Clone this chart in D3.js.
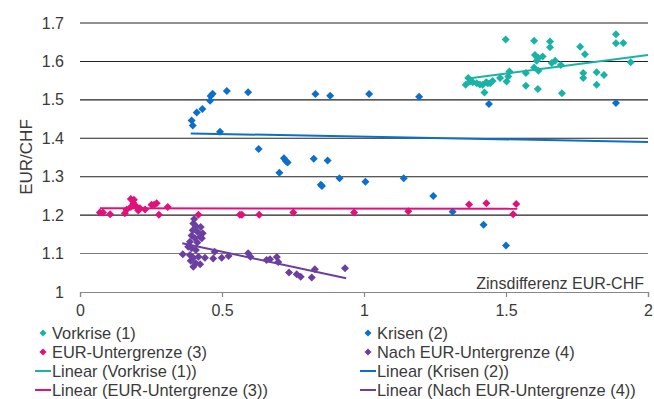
<!DOCTYPE html>
<html>
<head>
<meta charset="utf-8">
<script src="https://cdn.jsdelivr.net/npm/d3@7"></script>
<style>
  html, body { margin: 0; padding: 0; background: #fff; }
  svg { display: block; font-family: "Liberation Sans", Arial, sans-serif; }
</style>
</head>
<body>
<svg id="chart" width="654" height="399"></svg>
<script>
// Interest differential EUR-CHF (x) vs. EUR/CHF exchange rate (y), four regimes
const vorkriseX = [1.358,1.367,1.373,1.383,1.397,1.408,1.418,1.424,1.430,1.436,1.444,1.453,1.479,1.499,1.502,1.508,1.512,1.570,1.570,1.599,1.602,1.608,1.614,1.629,1.599,1.614,1.612,1.655,1.655,1.661,1.673,1.693,1.697,1.761,1.778,1.772,1.772,1.819,1.819,1.845,1.887,1.887,1.913,1.939];
const vorkriseY = [1.539,1.557,1.548,1.546,1.543,1.540,1.539,1.519,1.546,1.543,1.543,1.549,1.557,1.657,1.548,1.561,1.574,1.570,1.537,1.654,1.617,1.602,1.609,1.613,1.584,1.576,1.528,1.652,1.637,1.596,1.602,1.591,1.517,1.638,1.619,1.570,1.557,1.572,1.539,1.565,1.671,1.647,1.648,1.598];

const krisenX = [0.393,0.397,0.411,0.431,0.458,0.460,0.467,0.517,0.592,0.493,0.829,0.881,1.018,1.194,0.629,0.718,0.725,0.731,0.702,0.823,0.872,0.914,0.848,0.852,1.005,1.140,1.244,1.312,1.421,1.500,1.440,1.887];
const krisenY = [1.446,1.433,1.467,1.476,1.498,1.510,1.516,1.523,1.520,1.417,1.515,1.511,1.515,1.508,1.372,1.348,1.341,1.337,1.310,1.347,1.342,1.296,1.279,1.276,1.287,1.296,1.250,1.209,1.175,1.121,1.489,1.492];

const untergrenzeX = [0.070,0.081,0.106,0.158,0.164,0.179,0.179,0.188,0.190,0.197,0.205,0.211,0.229,0.252,0.261,0.270,0.278,0.309,0.417,0.563,0.570,0.631,0.751,0.965,1.156,1.370,1.431,1.536,1.525];
const untergrenzeY = [1.207,1.207,1.202,1.205,1.214,1.221,1.242,1.231,1.240,1.224,1.212,1.218,1.215,1.227,1.227,1.231,1.201,1.221,1.201,1.201,1.201,1.201,1.207,1.207,1.210,1.228,1.231,1.229,1.202];

const nachX = [0.402,0.399,0.408,0.425,0.397,0.413,0.432,0.393,0.423,0.405,0.429,0.387,0.413,0.381,0.393,0.408,0.362,0.387,0.399,0.417,0.440,0.390,0.408,0.423,0.399,0.474,0.469,0.499,0.523,0.592,0.600,0.657,0.669,0.693,0.698,0.736,0.763,0.777,0.816,0.827,0.933];
const nachY = [1.190,1.178,1.172,1.169,1.161,1.157,1.153,1.147,1.144,1.140,1.140,1.131,1.129,1.118,1.114,1.109,1.098,1.096,1.089,1.092,1.089,1.081,1.075,1.072,1.066,1.105,1.087,1.089,1.094,1.101,1.092,1.083,1.085,1.091,1.078,1.051,1.046,1.040,1.038,1.059,1.062];

// Linear trend lines: slope, intercept and x-extent per series
const seriesNames = ["Vorkrise (1)", "Krisen (2)", "EUR-Untergrenze (3)", "Nach EUR-Untergrenze (4)"];
const seriesColors = ["#19b3a6", "#0b6fcc", "#e0127a", "#6b3fa0"];
const trendSlopes = [0.0963, -0.0138, -0.001, -0.158];
const trendIntercepts = [1.424, 1.418, 1.218, 1.184];
const trendFrom = [1.36, 0.39, 0.07, 0.36];
const trendTo = [2.0, 2.0, 1.54, 0.937];

const xTicks = [0, 0.5, 1, 1.5, 2];
const yTicks = [1, 1.1, 1.2, 1.3, 1.4, 1.5, 1.6, 1.7];

const series = [
  { x: vorkriseX, y: vorkriseY },
  { x: krisenX, y: krisenY },
  { x: untergrenzeX, y: untergrenzeY },
  { x: nachX, y: nachY }
];

const svg = d3.select("#chart");
const x = d3.scaleLinear().domain([0, 2]).range([80, 648]);
const y = d3.scaleLinear().domain([1, 1.7]).range([292, 23]);
const textColor = "#3a3a3a";

// horizontal gridlines
svg.append("g").selectAll("line")
  .data(yTicks.filter(d => d > 1))
  .join("line")
  .attr("x1", x(0)).attr("x2", x(2))
  .attr("y1", d => y(d)).attr("y2", d => y(d))
  .attr("stroke", d => d === 1.1 ? "#7a7a7a" : "#222")
  .attr("stroke-width", 1.1);

// y-axis labels
svg.append("g").selectAll("text")
  .data(yTicks)
  .join("text")
  .attr("x", 64).attr("y", d => y(d))
  .attr("dy", "0.35em")
  .attr("text-anchor", "end")
  .attr("font-size", 16)
  .attr("fill", textColor)
  .text(d => d3.format("")(d));

// x axis with downward ticks
const xAxis = d3.axisBottom(x).tickValues(xTicks).tickSize(5).tickPadding(8)
  .tickFormat(d => d3.format("")(d));
const gx = svg.append("g").attr("transform", `translate(0,${y(1)})`).call(xAxis);
gx.select(".domain").attr("stroke", "#888").attr("stroke-width", 1.2);
gx.selectAll(".tick line").attr("stroke", "#888").attr("stroke-width", 1.2);
gx.selectAll(".tick text").attr("font-size", 16).attr("fill", textColor)
  .attr("font-family", "Liberation Sans, Arial, sans-serif");

// axis titles
svg.append("text")
  .attr("transform", `translate(32,157) rotate(-90)`)
  .attr("text-anchor", "middle")
  .attr("font-size", 17)
  .attr("fill", textColor)
  .text("EUR/CHF");

svg.append("text")
  .attr("x", 644).attr("y", 289)
  .attr("text-anchor", "end")
  .attr("font-size", 16)
  .attr("fill", textColor)
  .text("Zinsdifferenz EUR-CHF");

const diamond = r => `M0,${-r}L${r},0L0,${r}L${-r},0Z`;

// scatter points
series.forEach((s, i) => {
  svg.append("g").selectAll("path")
    .data(s.x.map((v, k) => [v, s.y[k]]))
    .join("path")
    .attr("d", diamond(4))
    .attr("transform", d => `translate(${x(d[0])},${y(d[1])})`)
    .attr("fill", seriesColors[i]);
});

// trend lines
series.forEach((s, i) => {
  const f = v => trendIntercepts[i] + trendSlopes[i] * v;
  svg.append("line")
    .attr("x1", x(trendFrom[i])).attr("y1", y(f(trendFrom[i])))
    .attr("x2", x(trendTo[i])).attr("y2", y(f(trendTo[i])))
    .attr("stroke", seriesColors[i])
    .attr("stroke-width", 2);
});

// legend
const colX = [43, 368];
const rowY = [333, 352, 371, 390];
const legendItems = [];
seriesNames.forEach((n, i) => legendItems.push({ type: "marker", name: n, i, col: i % 2, row: Math.floor(i / 2) }));
seriesNames.forEach((n, i) => legendItems.push({ type: "line", name: "Linear (" + n + ")", i, col: i % 2, row: 2 + Math.floor(i / 2) }));

const lg = svg.append("g").selectAll("g")
  .data(legendItems)
  .join("g")
  .attr("transform", d => `translate(${colX[d.col]},${rowY[d.row]})`);

lg.filter(d => d.type === "marker").append("path")
  .attr("d", diamond(3.5))
  .attr("fill", d => seriesColors[d.i]);

lg.filter(d => d.type === "line").append("line")
  .attr("x1", -8).attr("x2", 8).attr("y1", 0).attr("y2", 0)
  .attr("stroke", d => seriesColors[d.i]).attr("stroke-width", 2);

lg.append("text")
  .attr("x", 9)
  .attr("dy", "0.35em")
  .attr("font-size", 16.4)
  .attr("fill", textColor)
  .text(d => d.name);
</script>
</body>
</html>
